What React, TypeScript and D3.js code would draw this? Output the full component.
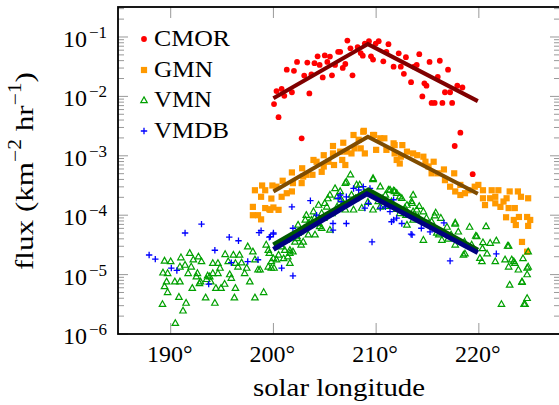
import React from "react";
import * as d3 from "d3";

// [solar longitude (deg), log10 flux]
const cmorPoints: [number, number][] = [
  [200.06,-2.13],[200.5,-2.35],[200.3,-1.91],[200.8,-1.875],[201.06,-1.99],[201.8,-1.93],[201.3,-1.55],[202.0,-1.57],
  [202.3,-1.42],[203.0,-1.65],[203.3,-1.43],[203.5,-1.95],[203.7,-1.63],[204.0,-1.44],[204.3,-1.325],[204.5,-1.47],
  [204.8,-1.68],[205.0,-1.31],[205.25,-1.42],[205.5,-1.33],[205.7,-1.645],[206.0,-1.47],[206.3,-1.25],[206.5,-1.25],
  [206.75,-1.52],[207.0,-1.455],[207.2,-1.06],[207.5,-1.19],[207.7,-1.645],[208.2,-1.17],[208.5,-1.27],[208.7,-1.315],
  [208.9,-1.11],[209.3,-1.07],[209.5,-1.325],[209.7,-1.38],[209.96,-1.11],[210.25,-1.07],[210.7,-1.41],[211.2,-1.12],
  [211.0,-1.25],[211.7,-1.5],[212.2,-1.275],[212.4,-1.5],[212.7,-1.62],[212.9,-1.34],[213.4,-1.76],[213.7,-1.5],
  [213.95,-1.47],[214.2,-1.29],[214.5,-2.0],[214.7,-1.78],[214.9,-1.82],[215.2,-1.42],[215.4,-2.11],[215.7,-2.11],
  [216.0,-1.67],[216.2,-1.4],[216.45,-2.11],[216.7,-1.93],[217.0,-1.55],[217.2,-1.93],[217.4,-2.11],[217.9,-1.82],
  [218.4,-1.85],[218.2,-2.61],[217.65,-2.835],[219.4,-3.31],[202.75,-2.705],
];

const gmnPoints: [number, number][] = [
  [198.2,-3.58],[198.9,-3.5],[199.2,-3.58],[198.8,-3.69],[198.0,-3.86],[198.0,-4.0],[198.5,-4.0],[198.8,-4.07],
  [199.2,-3.88],[199.6,-3.9],[200.0,-3.87],[200.5,-3.91],[199.8,-3.72],[199.9,-3.5],[200.3,-3.52],[200.9,-3.42],
  [200.8,-3.69],[201.3,-3.63],[201.8,-3.6],[201.9,-3.46],[201.8,-3.28],[202.75,-3.46],[202.9,-3.35],[202.8,-3.21],
  [203.2,-3.32],[203.9,-3.07],[203.8,-3.32],[204.2,-3.1],[204.7,-3.27],[204.9,-3.18],[204.9,-2.99],[205.35,-3.1],
  [205.8,-2.835],[205.8,-2.96],[205.9,-3.155],[206.5,-2.93],[206.7,-3.07],[206.8,-2.78],[207.0,-3.155],[207.1,-2.93],
  [207.6,-2.96],[207.8,-2.65],[208.3,-2.73],[207.9,-2.875],[208.5,-2.875],[208.75,-2.595],[208.9,-2.96],[209.7,-2.65],
  [210.0,-2.9],[210.4,-2.705],[210.8,-2.705],[211.0,-2.9],[211.7,-2.79],[211.8,-2.96],[212.0,-3.07],[212.3,-3.13],
  [208.8,-2.58],[209.8,-2.65],[199.7,-3.91],
  [211.8,-2.82],[212.55,-2.82],[212.4,-3.015],[213.0,-2.93],[213.6,-2.96],[214.0,-2.99],[214.6,-3.015],[214.8,-3.1],
  [215.1,-3.18],[215.6,-3.1],[215.4,-3.295],[216.0,-3.295],[216.6,-3.23],[216.7,-3.41],[217.2,-3.52],[217.6,-3.295],
  [217.7,-3.6],[218.2,-3.49],[218.2,-3.66],[218.65,-3.63],[219.0,-3.58],[219.6,-3.52],[219.95,-3.49],[220.4,-3.58],
  [220.4,-3.715],[220.6,-3.83],[221.25,-3.58],[221.1,-3.715],[221.6,-3.8],[221.6,-3.69],[221.9,-3.58],[222.1,-3.86],
  [222.4,-3.77],[222.7,-3.715],[223.0,-3.6],[222.9,-3.88],[223.5,-3.88],[223.8,-3.6],[224.1,-3.69],[224.8,-3.715],
  [222.65,-4.035],[223.4,-4.08],[223.9,-4.03],[224.7,-4.03],[225.0,-4.08],[223.6,-4.165],[224.8,-4.18],[224.2,-4.45],
  [224.7,-4.615],
];

const vmnPoints: [number, number][] = [
  [189.4,-4.77],[190.0,-4.78],[191.0,-4.715],[191.85,-4.64],[192.7,-4.7],[193.0,-4.78],[191.4,-4.84],[192.0,-4.87],
  [190.9,-4.87],[189.25,-4.97],[189.7,-4.98],[189.6,-5.12],[190.4,-5.12],[190.9,-5.12],[189.4,-5.2],[189.7,-5.3],
  [190.8,-5.38],[191.5,-5.48],[191.2,-5.61],[189.2,-5.5],[190.45,-5.82],[192.1,-5.23],[192.5,-5.035],[192.6,-4.98],
  [192.9,-5.12],[193.6,-5.02],[193.5,-5.08],[193.8,-5.035],[193.4,-5.39],[194.3,-5.48],[194.1,-4.81],[194.1,-4.98],
  [194.6,-4.98],[194.8,-4.89],[194.4,-5.23],[194.9,-5.23],[195.25,-5.16],[195.3,-4.66],[195.6,-4.78],[196.1,-4.67],
  [196.3,-4.81],[196.55,-4.87],[196.7,-4.67],[195.75,-5.0],[195.9,-5.06],[196.3,-5.23],[196.2,-5.39],[197.2,-4.98],
  [197.7,-5.12],[197.5,-4.53],[198.0,-4.615],[198.2,-5.39],[198.5,-4.92],[198.7,-4.92],[199.05,-5.3],[199.3,-4.5],
  [199.6,-4.64],[199.8,-4.78],[200.06,-4.89],[198.2,-4.75],[196.9,-4.8],[197.4,-4.89],[193.9,-5.12],[194.6,-4.81],
  [192.2,-4.75],[192.8,-5.15],[191.7,-4.98],
  [207.5,-3.32],[209.7,-3.38],[207.0,-3.46],[208.1,-3.49],[206.0,-3.55],[205.5,-3.66],[205.0,-3.8],[205.2,-3.86],
  [204.4,-3.83],[203.9,-3.94],[203.2,-4.0],[203.1,-4.08],[202.4,-4.165],[202.6,-4.28],[202.3,-4.36],[202.9,-4.45],
  [202.1,-4.45],[201.6,-4.59],[201.1,-4.59],[200.5,-4.67],[200.0,-4.73],[199.5,-4.59],[199.5,-4.87],[200.3,-4.75],
  [199.8,-4.89],[201.6,-4.81],[201.9,-4.615],[203.4,-4.33],[204.05,-4.33],[205.5,-4.25],[204.7,-4.22],[205.7,-3.97],
  [206.2,-3.86],[207.0,-3.91],[207.8,-3.91],[208.6,-3.88],[209.7,-3.91],[210.4,-3.52],[211.35,-3.576],[212.0,-3.63],
  [212.5,-3.715],[213.5,-3.8],[211.5,-3.77],[210.2,-3.77],[203.7,-4.08],[204.4,-4.14],
  [207.1,-3.44],[209.7,-3.4],[206.5,-3.6],[211.2,-3.576],[211.8,-3.6],[208.4,-3.49],[206.2,-3.69],
  [213.6,-3.66],[211.7,-3.59],[212.3,-3.69],
  [215.7,-4.01],[217.7,-4.15],[219.1,-4.2],[220.7,-4.19],[219.8,-4.36],[220.4,-4.46],[221.7,-4.43],[222.9,-4.52],
  [224.8,-4.615],[223.4,-4.78],[224.7,-4.89],[223.0,-5.175],[224.2,-5.12],[224.7,-5.4],[222.2,-5.5],[224.5,-5.5],
  [218.65,-4.65],[220.1,-4.725],[214.6,-4.42],[215.9,-4.3],
  [213.45,-3.77],[213.0,-3.83],[214.6,-3.94],[215.8,-3.96],[214.1,-4.03],[215.4,-4.11],[217.7,-4.13],[216.1,-4.33],
  [216.4,-4.42],[217.7,-4.5],[218.5,-4.67],[219.7,-4.35],[221.1,-4.47],[220.35,-4.56],[220.8,-4.65],[220.3,-4.78],
  [221.6,-4.78],[222.8,-4.52],[222.55,-4.75],[222.9,-4.87],[223.5,-4.81],[223.85,-4.92],[224.3,-4.73],[224.8,-4.87],
  [224.7,-5.0],[224.2,-5.13],[224.4,-5.5],[223.2,-4.75],
  [210.4,-3.86],[212.3,-3.97],[213.6,-4.08],[213.95,-3.91],[213.0,-4.165],[204.5,-4.19],[202.3,-4.39],[201.6,-4.64],
  [201.0,-4.73],[200.8,-4.53],[202.4,-4.305],[203.4,-4.14],[204.7,-3.97],[206.6,-3.74],[207.6,-3.66],[210.9,-3.66],
  [212.8,-3.88],[213.6,-3.94],
  [201.2,-4.42],[201.4,-4.7],[202.7,-4.5],[203.0,-4.22],[204.0,-4.05],[204.9,-4.05],[205.3,-3.72],[206.8,-3.8],
  [208.0,-3.72],[208.9,-3.62],[209.2,-3.78],[210.6,-3.72],[211.0,-3.85],[212.0,-3.9],[212.9,-4.0],[214.2,-3.85],
  [214.9,-4.05],[216.3,-4.05],[216.9,-4.2],[217.3,-4.33],[218.0,-4.28],[218.6,-4.45],[219.3,-4.5],[217.0,-4.4],
];

const vmdbPoints: [number, number][] = [
  [187.9,-4.67],[188.5,-4.74],[190.06,-4.89],[190.6,-4.93],[191.4,-4.3],[193.0,-4.15],[193.7,-5.16],[194.3,-4.59],
  [195.7,-4.37],[196.6,-4.43],[195.9,-4.8],[197.5,-4.78],[198.5,-4.75],[198.6,-4.295],[198.8,-4.26],[199.6,-4.37],
  [200.0,-4.32],
  [199.7,-4.36],[200.0,-4.3],[201.9,-4.22],[201.8,-3.86],[203.6,-3.756],[204.2,-4.0],[205.8,-4.14],[205.8,-4.25],
  [207.1,-4.14],[206.5,-3.66],[207.1,-3.69],[207.8,-3.55],[208.3,-3.576],[208.75,-3.52],[209.4,-3.55],[209.25,-3.8],
  [208.9,-3.88],[209.6,-4.45],[210.4,-3.88],[210.9,-3.86],[211.7,-3.74],[211.35,-3.94],[211.7,-4.08],[212.5,-4.14],
  [213.4,-4.32],[200.8,-4.89],[201.9,-5.02],[206.3,-3.715],[206.6,-3.77],
  [212.0,-4.05],[211.5,-4.11],[205.8,-3.97],[213.5,-4.33],[216.6,-4.13],[217.2,-4.77],[221.7,-4.65],
  [214.4,-4.22],[215.25,-4.28],
];

// fitted lines: [lon, log10 flux]
const cmorFit: [number, number][] = [[200, -2.03], [209.2, -1.12], [219.9, -2.08]];
const gmnFit: [number, number][] = [[200, -3.6], [209.2, -2.68], [219.9, -3.64]];
const vmnFit: [number, number][] = [[200, -4.5], [209.25, -3.576], [219.9, -4.59]];
const vmdbFit: [number, number][] = [[200, -4.575], [209.1, -3.64], [219.9, -4.63]];

const xTicks = [190, 200, 210, 220];
const yDecades = [-6, -5, -4, -3, -2, -1];
const legendLabels = ["CMOR", "GMN", "VMN", "VMDB"];
const legendWidths = [76, 59, 58, 75];

const W = 559, H = 405;
const left = 118, right = 560, top = 7, bottom = 334;
const FONT = "'Liberation Serif', 'Times New Roman', serif";

export default function App() {
  const x = d3.scaleLinear().domain([184.87, 227.9]).range([left, right]);
  const y = d3.scaleLog().domain([1e-6, Math.pow(10, -0.495)]).range([bottom, top]);
  const px = (p: [number, number]) => x(p[0]);
  const py = (p: [number, number]) => y(Math.pow(10, p[1]));
  const line = d3.line<[number, number]>().x(px).y(py);

  const minor: number[] = [];
  for (const e of yDecades) {
    for (let m = 2; m <= 9; m++) {
      const v = m * Math.pow(10, e);
      if (v < y.domain()[1]) minor.push(v);
    }
  }

  const tri = (cx: number, cy: number, s = 3.6) =>
    `M${cx},${cy - s}L${cx + s * 0.9},${cy + s * 0.6}L${cx - s * 0.9},${cy + s * 0.6}Z`;
  const plus = (cx: number, cy: number, s = 3.2) =>
    `M${cx - s},${cy}H${cx + s}M${cx},${cy - s}V${cy + s}`;

  const red = "#ff0000", orange = "#ff9900", green = "#00a000", blue = "#0000ff";
  const legendY = [39, 70, 100, 131];
  const tstyle = { fontFamily: FONT };

  return (
    <svg width={W} height={H} style={{ position: "absolute", left: 0, top: 0, background: "#fff", fontFamily: FONT }}>
      <defs>
        <clipPath id="plotclip">
          <rect x={left} y={top} width={right - left} height={bottom - top} />
        </clipPath>
      </defs>
      <g stroke="#999" strokeWidth={1}>
        {xTicks.map((t) => (
          <g key={t}>
            <line x1={x(t)} x2={x(t)} y1={bottom} y2={bottom - 11} />
            <line x1={x(t)} x2={x(t)} y1={top} y2={top + 11} />
          </g>
        ))}
        {yDecades.map((e) => (
          <g key={e}>
            <line x1={left} x2={left + 10} y1={y(Math.pow(10, e))} y2={y(Math.pow(10, e))} />
            <line x1={right} x2={right - 10} y1={y(Math.pow(10, e))} y2={y(Math.pow(10, e))} />
          </g>
        ))}
        {minor.map((v, i) => (
          <g key={i}>
            <line x1={left} x2={left + 6} y1={y(v)} y2={y(v)} />
            <line x1={right} x2={right - 6} y1={y(v)} y2={y(v)} />
          </g>
        ))}
      </g>

      <g clipPath="url(#plotclip)">
        {cmorPoints.map((p, i) => (
          <circle key={i} cx={px(p)} cy={py(p)} r={2.9} fill={red} />
        ))}
        {gmnPoints.map((p, i) => (
          <rect key={i} x={px(p) - 3.1} y={py(p) - 3.1} width={6.2} height={6.2} fill={orange} />
        ))}
        {vmnPoints.map((p, i) => (
          <path key={i} d={tri(px(p), py(p))} fill="none" stroke={green} strokeWidth={1.2} />
        ))}
        {vmdbPoints.map((p, i) => (
          <path key={i} d={plus(px(p), py(p))} fill="none" stroke={blue} strokeWidth={1.3} />
        ))}
        <path d={line(cmorFit) || ""} fill="none" stroke="#800000" strokeWidth={4} />
        <path d={line(gmnFit) || ""} fill="none" stroke="#7f4c00" strokeWidth={4} />
        <path d={line(vmnFit) || ""} fill="none" stroke="#005a00" strokeWidth={5} />
        <path d={line(vmdbFit) || ""} fill="none" stroke="#000080" strokeWidth={5} />
      </g>

      <rect x={left} y={top} width={right - left} height={bottom - top} fill="none" stroke="#000" strokeWidth={1.8} />

      {yDecades.map((e) => (
        <text key={e} x={107} y={y(Math.pow(10, e)) + 10} textAnchor="end" fontSize={24} fill="#000" style={tstyle}>
          <tspan>10</tspan>
          <tspan dx={2} dy={-9} fontSize={17}>{"\u2212" + Math.abs(e)}</tspan>
        </text>
      ))}
      {xTicks.map((t) => (
        <text key={t} x={x(t) - 1} y={362} textAnchor="middle" fontSize={24} fill="#000" style={tstyle}>
          {t + "\u00b0"}
        </text>
      ))}
      <text x={339} y={396} textAnchor="middle" fontSize={26} fill="#000" style={tstyle}
        textLength={172} lengthAdjust="spacingAndGlyphs">solar longitude</text>
      <g transform="translate(33,171) rotate(-90)">
        <text x={0} y={0} textAnchor="middle" fontSize={26} fill="#000" style={tstyle}
          textLength={198} lengthAdjust="spacingAndGlyphs">
          <tspan>flux (km</tspan>
          <tspan dy={-12} fontSize={18}>{"\u22122"}</tspan>
          <tspan dy={12}>{"\u00a0hr"}</tspan>
          <tspan dy={-12} fontSize={18}>{"\u22121"}</tspan>
          <tspan dy={12}>)</tspan>
        </text>
      </g>

      <g>
        <circle cx={144} cy={legendY[0]} r={2.9} fill={red} />
        <rect x={144 - 3.1} y={legendY[1] - 3.1} width={6.2} height={6.2} fill={orange} />
        <path d={tri(144, legendY[2] + 0.5)} fill="none" stroke={green} strokeWidth={1.2} />
        <path d={plus(144, legendY[3])} fill="none" stroke={blue} strokeWidth={1.3} />
        {legendLabels.map((l, i) => (
          <text key={l} x={154} y={legendY[i] + 7} fontSize={24} fill="#000" style={tstyle}
            textLength={legendWidths[i]} lengthAdjust="spacingAndGlyphs">{l}</text>
        ))}
      </g>
    </svg>
  );
}
